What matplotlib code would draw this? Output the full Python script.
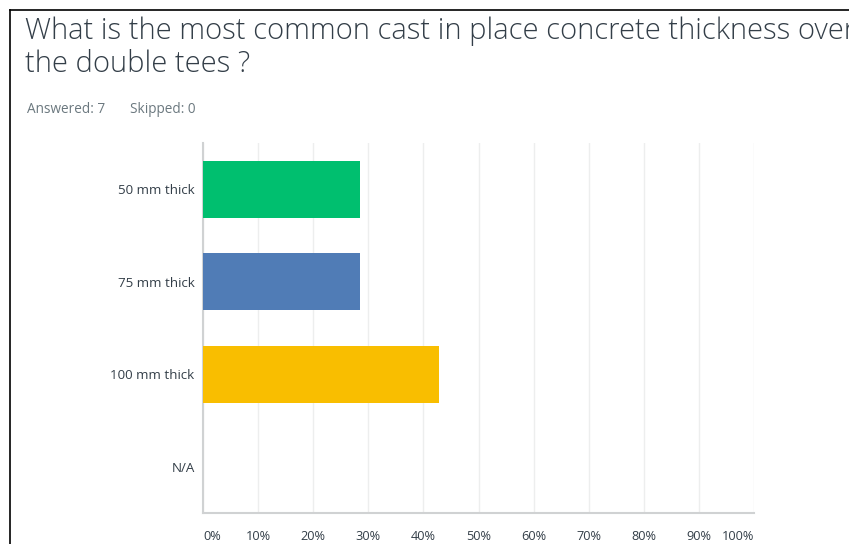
import matplotlib.pyplot as plt
from matplotlib.lines import Line2D

categories = ["50 mm thick", "75 mm thick", "100 mm thick", "N/A"]
shares = [2 / 7 * 100, 2 / 7 * 100, 3 / 7 * 100, 0.0]
bar_colors = ["#00BF6F", "#507CB6", "#F9BE00", "#A05FB4"]
tick_vals = list(range(0, 101, 10))
tick_labels = [f"{v}%" for v in tick_vals]

title = "What is the most common cast in place concrete thickness over\nthe double tees ?"
answered = 7
skipped = 0

plt.rcParams['font.family'] = ['Open Sans', 'DejaVu Sans']
text_col = "#333E48"

fig = plt.figure(figsize=(8.49, 5.44), dpi=100)
W, H = 849, 544

# frame around the panel
fig.add_artist(Line2D([9.5 / W, 9.5 / W], [0, 1 - 9.5 / H], color="black", lw=1.2))
fig.add_artist(Line2D([9.5 / W, 1], [1 - 9.5 / H, 1 - 9.5 / H], color="black", lw=1.2))

fig.text(25 / W, 1 - 16 / H, title, ha="left", va="top", fontsize=21,
         fontweight=300, color=text_col, linespacing=1.17)
fig.text(27 / W, 1 - 109 / H, f"Answered: {answered}", ha="left", va="center",
         fontsize=9.8, color="#6B787F")
fig.text(130 / W, 1 - 109 / H, f"Skipped: {skipped}", ha="left", va="center",
         fontsize=9.8, color="#6B787F")

ax = fig.add_axes([203 / W, 1 - 513 / H, (754 - 203) / W, (513 - 143) / H])
ypos = list(range(len(categories)))
ax.barh(ypos, shares, height=0.62, color=bar_colors, edgecolor="none", zorder=3)
ax.set_ylim(len(categories) - 0.5, -0.5)
ax.set_xlim(0, 100)

ax.set_xticks(tick_vals)
ax.set_xticklabels(tick_labels)
labs = ax.get_xticklabels()
labs[0].set_ha("left")
labs[-1].set_ha("right")
ax.tick_params(axis="x", length=0, pad=12, labelsize=9.2, labelcolor=text_col)
ax.set_yticks(ypos)
ax.set_yticklabels(categories)
ax.tick_params(axis="y", length=0, pad=6, labelsize=9.6, labelcolor=text_col)

ax.grid(axis="x", color="#EDEEEE", lw=1, zorder=0)
for s in ["top", "right"]:
    ax.spines[s].set_visible(False)
ax.spines["left"].set_color("#D0D2D3")
ax.spines["bottom"].set_color("#D0D2D3")
ax.spines["left"].set_linewidth(1.5)
ax.spines["bottom"].set_linewidth(1.5)

fig.savefig("out.png", dpi=100)
